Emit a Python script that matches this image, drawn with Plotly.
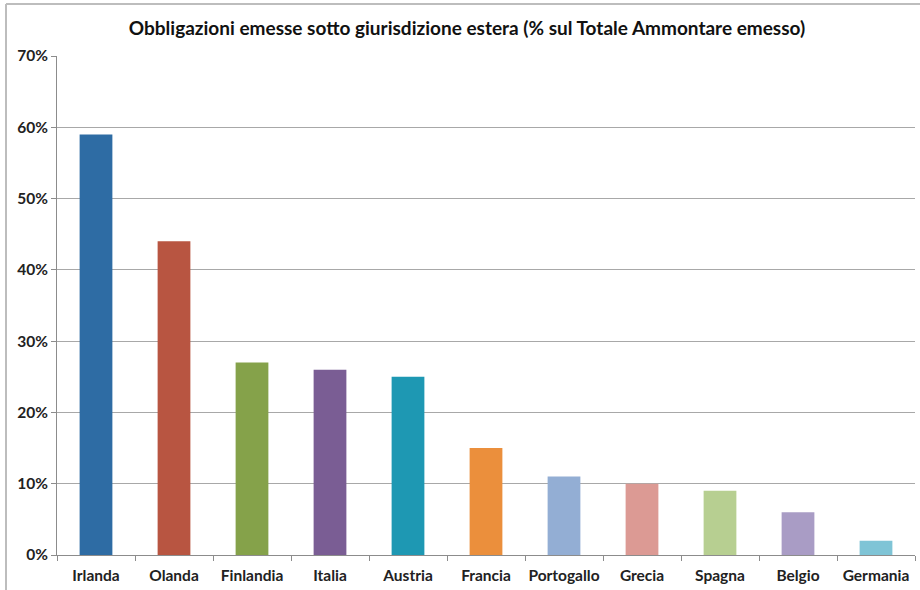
import plotly.graph_objects as go

categories = ["Irlanda", "Olanda", "Finlandia", "Italia", "Austria", "Francia",
              "Portogallo", "Grecia", "Spagna", "Belgio", "Germania"]
values = [0.59, 0.44, 0.27, 0.26, 0.25, 0.15, 0.11, 0.10, 0.09, 0.06, 0.02]
colors = ["#2E6CA4", "#B85541", "#85A24A", "#7A5D94", "#1E98B3", "#EB8F3C",
          "#93AED4", "#DC9A94", "#B7CF91", "#A99CC5", "#7FC4D6"]
tick_vals = [0, 0.1, 0.2, 0.3, 0.4, 0.5, 0.6, 0.7]
tick_text = ["0%", "10%", "20%", "30%", "40%", "50%", "60%", "70%"]
title = "Obbligazioni emesse sotto giurisdizione estera (% sul Totale Ammontare emesso)"

L, R, T, B = 57, 5, 56, 35
pw, ph = 920 - L - R, 590 - T - B

def px_x(x):
    return (x - L) / pw

def px_y(y):
    return (590 - B - y) / ph

fig = go.Figure(go.Bar(x=categories, y=values, marker=dict(color=colors, line=dict(width=0)),
                       width=0.42, hoverinfo="skip"))

fig.update_layout(
    width=920, height=590,
    margin=dict(l=L, r=R, t=T, b=B, autoexpand=False),
    paper_bgcolor="white", plot_bgcolor="white",
    showlegend=False,
    font=dict(family="Lato, Open Sans, sans-serif", color="#1a1a1a"),
    title=dict(text="<b>" + title + "</b>", x=467 / 920, xanchor="center", y=1 - 28 / 590, yanchor="middle",
               font=dict(size=19, color="#111", family="Lato, Open Sans, sans-serif")),
    shapes=[
        dict(type="line", xref="paper", yref="paper", x0=px_x(6), x1=px_x(920), y0=px_y(4), y1=px_y(4),
             line=dict(color="#BDBDBD", width=2), layer="below"),
        dict(type="line", xref="paper", yref="paper", x0=px_x(6), x1=px_x(6), y0=px_y(4), y1=px_y(590),
             line=dict(color="#BDBDBD", width=2), layer="below"),
    ],
)
fig.update_yaxes(range=[0, 0.7], tickvals=tick_vals, ticktext=tick_text,
                 showgrid=True, gridcolor="#A8A8A8", gridwidth=1,
                 showline=True, linecolor="#8C8C8C", linewidth=1,
                 ticks="outside", ticklen=5, tickcolor="#8C8C8C", automargin=False,
                 tickfont=dict(size=15.5, color="#222", family="Lato, sans-serif", weight="bold"),
                 zeroline=False)
fig.update_xaxes(showline=True, linecolor="#8C8C8C", linewidth=1,
                 ticks="outside", tickson="boundaries", ticklen=5, tickcolor="#8C8C8C",
                 ticklabelstandoff=6, tickangle=0, automargin=False,
                 tickfont=dict(size=15.5, color="#222", family="Lato, sans-serif", weight="bold"),
                 showgrid=False)

fig.write_html("out.html")
